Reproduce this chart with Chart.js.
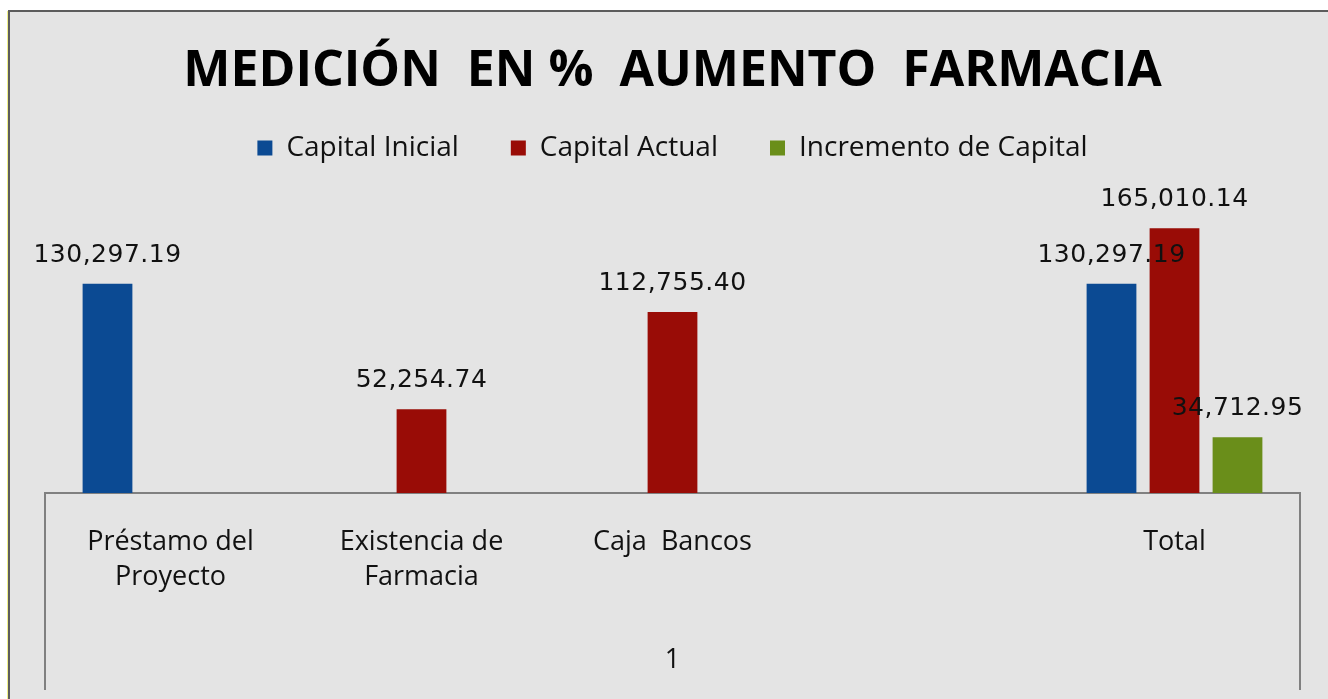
<!DOCTYPE html>
<html>
<head>
<meta charset="utf-8">
<script src="https://cdn.jsdelivr.net/npm/chart.js@4.4.1/dist/chart.umd.min.js"></script>
<style>
html, body { margin: 0; padding: 0; background: #fff; }
#wrap { width: 1328px; height: 699px; position: relative; }
</style>
</head>
<body>
<div id="wrap"><canvas id="chart"></canvas></div>
<script>
const categories = [['Préstamo del', 'Proyecto'], ['Existencia de', 'Farmacia'], 'Caja  Bancos', '', 'Total'];
const capitalInicial = [130297.19, null, null, null, 130297.19];
const capitalActual = [null, 52254.74, 112755.40, null, 165010.14];
const incrementoCapital = [null, null, null, null, 34712.95];
const outerLabel = '1';

const FONT = "'Open Sans', sans-serif";

function fmt(v) {
    return v.toLocaleString('en-US', {minimumFractionDigits: 2, maximumFractionDigits: 2});
}

// grey panel with the dark frame on top / left
const panel = {
    id: 'panel',
    beforeDraw: function(chart) {
        const ctx = chart.ctx;
        ctx.save();
        ctx.fillStyle = '#ffffff';
        ctx.fillRect(0, 0, chart.width, chart.height);
        ctx.fillStyle = '#e4e4e4';
        ctx.fillRect(10, 12, chart.width - 10, chart.height - 12);
        ctx.strokeStyle = '#f0f08a';
        ctx.lineWidth = 1;
        ctx.beginPath();
        ctx.moveTo(7.5, chart.height);
        ctx.lineTo(7.5, 11);
        ctx.stroke();
        ctx.strokeStyle = '#5c5c5c';
        ctx.lineWidth = 2;
        ctx.beginPath();
        ctx.moveTo(9, chart.height);
        ctx.lineTo(9, 11);
        ctx.lineTo(chart.width, 11);
        ctx.stroke();
        ctx.restore();
    }
};

// value labels above the bars
const barLabels = {
    id: 'barLabels',
    afterDatasetsDraw: function(chart) {
        const ctx = chart.ctx;
        ctx.save();
        ctx.font = "25px 'DejaVu Sans', sans-serif";
        ctx.letterSpacing = '0.5px';
        ctx.fillStyle = '#111';
        ctx.textAlign = 'center';
        ctx.textBaseline = 'alphabetic';
        chart.data.datasets.forEach(function(ds, i) {
            const meta = chart.getDatasetMeta(i);
            meta.data.forEach(function(bar, j) {
                const v = ds.data[j];
                if (v === null || v === undefined) {
                    return;
                }
                ctx.fillText(fmt(v), bar.x, bar.y - 22);
            });
        });
        ctx.restore();
    }
};

// excel style outer category box with the "1" label
const outerAxis = {
    id: 'outerAxis',
    afterDraw: function(chart) {
        const ctx = chart.ctx;
        const area = chart.chartArea;
        const bottom = chart.height - 9;
        ctx.save();
        ctx.strokeStyle = '#808080';
        ctx.lineWidth = 2;
        ctx.beginPath();
        ctx.moveTo(area.left, area.bottom);
        ctx.lineTo(area.left, bottom);
        ctx.moveTo(area.right, area.bottom);
        ctx.lineTo(area.right, bottom);
        ctx.stroke();
        ctx.font = '27px ' + FONT;
        ctx.fillStyle = '#111';
        ctx.textAlign = 'center';
        ctx.textBaseline = 'middle';
        ctx.fillText(outerLabel, (area.left + area.right) / 2, 660);
        ctx.restore();
    }
};

const ctx = document.getElementById('chart').getContext('2d');
const chart = new Chart(ctx, {
    type: 'bar',
    data: {
        labels: categories,
        datasets: [
            {label: 'Capital Inicial', data: capitalInicial, backgroundColor: '#0b4a93'},
            {label: 'Capital Actual', data: capitalActual, backgroundColor: '#990c06'},
            {label: 'Incremento de Capital', data: incrementoCapital, backgroundColor: '#6a8e1a'},
        ],
    },
    options: {
        animation: false,
        responsive: true,
        maintainAspectRatio: false,
        layout: {
            padding: {top: 11, left: 45, right: 28, bottom: 0},
        },
        datasets: {
            bar: {
                categoryPercentage: 0.753,
                barPercentage: 0.79,
            },
        },
        scales: {
            x: {
                grid: {display: false, drawTicks: false},
                border: {display: true, color: '#808080', width: 2},
                ticks: {
                    color: '#111',
                    font: {family: FONT, size: 27, lineHeight: 1.3},
                    padding: 32,
                    maxRotation: 0,
                    autoSkip: false,
                },
                afterFit: function(scale) {
                    scale.height = 206;
                },
            },
            y: {
                display: false,
                min: 0,
                max: 200000,
            },
        },
        plugins: {
            title: {
                display: true,
                text: 'MEDICIÓN  EN %  AUMENTO  FARMACIA',
                color: '#000',
                font: {family: FONT, size: 50, weight: 'bold', lineHeight: 0.4},
                padding: {top: 51, bottom: 0},
            },
            legend: {
                labels: {
                    color: '#111',
                    font: {family: FONT, size: 28},
                    boxWidth: 15,
                    boxHeight: 15,
                    padding: 52,
                },
            },
            tooltip: {enabled: false},
        },
    },
    plugins: [panel, barLabels, outerAxis],
});
</script>
</body>
</html>
